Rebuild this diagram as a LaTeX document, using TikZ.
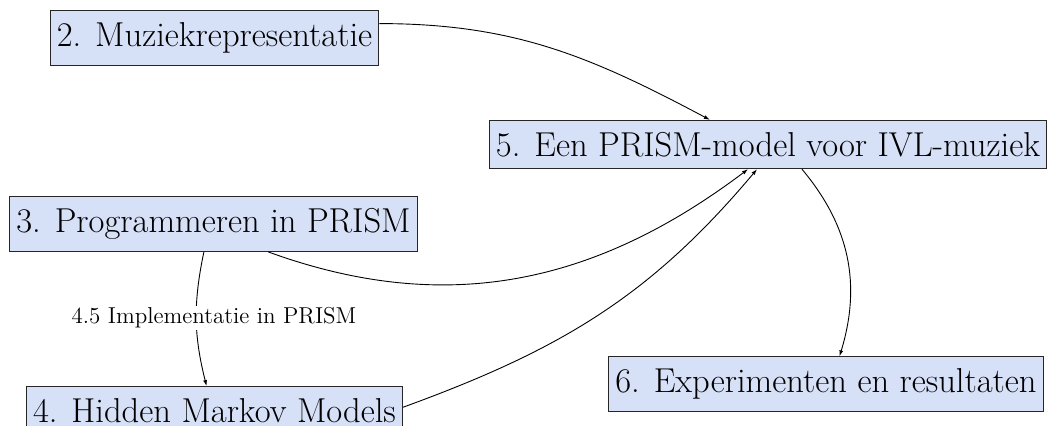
\documentclass[tikz,border=0pt]{standalone}
\usetikzlibrary{arrows.meta}
\definecolor{boxfill}{RGB}{214,224,246}
\tikzset{
  chapter/.style={draw=black!85, line width=0.5pt, fill=boxfill, inner xsep=0.3333em, inner ysep=5.9pt,
    font=\fontsize{17.28}{20.7}\selectfont},
  conn/.style={line width=0.45pt, -{Latex[length=3pt,width=2pt]}},
  lbl/.style={fill=white, inner sep=1pt, font=\fontsize{11.5}{13.8}\selectfont}
}
\begin{document}
\begin{tikzpicture}[x=0.5pt,y=-0.5pt]
\useasboundingbox (0,0) rectangle (1047,425);
\node[chapter] (n2) at (214.5,38) {2. Muziekrepresentatie};
\node[chapter] (n5) at (768,144.5) {5. Een PRISM-model voor IVL-muziek};
\node[chapter] (n3) at (213.5,224) {3. Programmeren in PRISM};
\node[chapter] (n4) at (214.5,410.5) {4. Hidden Markov Models};
\node[chapter] (n6) at (826,384) {6. Experimenten en resultaten};
\draw[conn] (n2.5) to[out=0,in=152] (n5.157);
\draw[conn] (n3.-109) to[bend right=13] (n4.108);
\node[lbl] (l45) at (214,318) {4.5 Implementatie in PRISM};
\draw[conn] (n3.-27) to[out=-20,in=217] (n5.-129);
\draw[conn] (n4.1) to[out=20,in=230] (n5.-114);
\draw[conn] (n5.-36) to[out=-50,in=73] (n6.64);
\end{tikzpicture}
\end{document}
